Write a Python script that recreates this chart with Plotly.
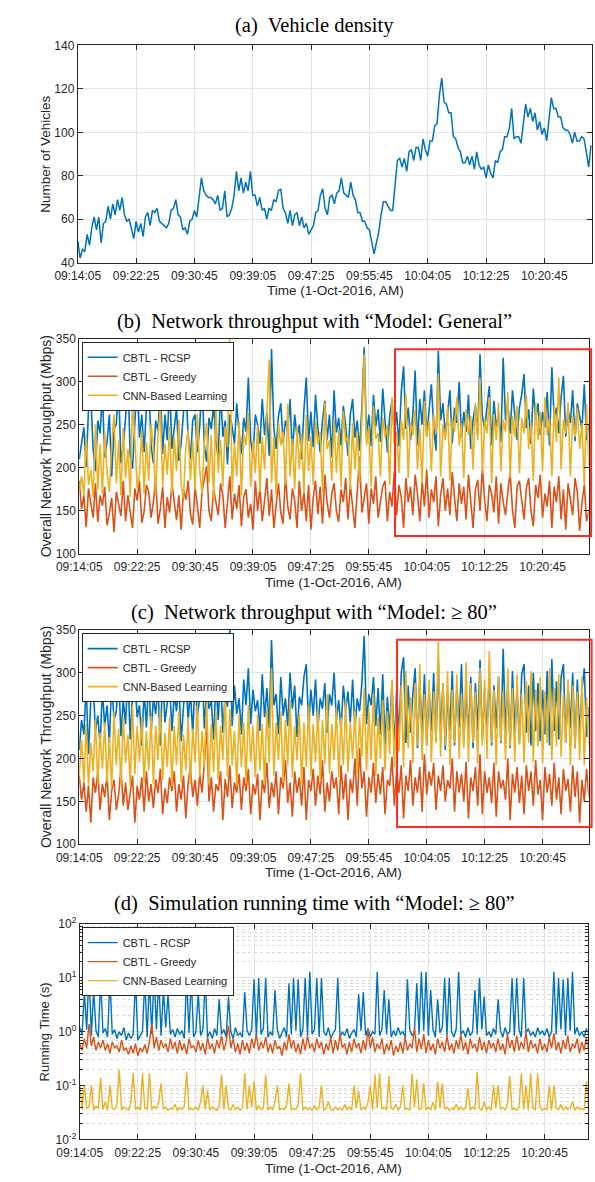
import plotly.graph_objects as go

# ---------------- data ----------------
tick_seconds = [0, 500, 1000, 1500, 2000, 2500, 3000, 3500, 4000]
tick_labels = ["09:14:05", "09:22:25", "09:30:45", "09:39:05", "09:47:25",
               "09:55:45", "10:04:05", "10:12:25", "10:20:45"]
t_sec = list(range(0, 4401, 20))  # seconds after 09:14:05

vehicles = [
    50, 42, 46, 45, 53, 48, 56, 61, 55, 61,
    49, 58, 59, 66, 60, 67, 62, 69, 64, 70,
    62, 59, 60, 56, 51, 59, 54, 58, 52, 61,
    63, 57, 64, 63, 65, 59, 58, 57, 56, 58,
    64, 65, 69, 62, 61, 55, 56, 53, 59, 60,
    64, 61, 69, 79, 73, 71, 70, 70, 69, 67,
    71, 64, 65, 73, 61, 62, 65, 71, 82, 73,
    79, 72, 77, 73, 82, 71, 71, 66, 70, 64,
    65, 60, 65, 64, 69, 68, 73, 74, 65, 63,
    58, 64, 57, 62, 63, 57, 61, 56, 58, 53,
    55, 57, 63, 64, 71, 74, 65, 62, 70, 71,
    67, 72, 73, 79, 72, 71, 70, 77, 71, 69,
    63, 63, 59, 59, 56, 55, 49, 44, 49, 54,
    62, 68, 68, 66, 64, 64, 77, 87, 88, 84,
    88, 82, 91, 92, 87, 93, 93, 87, 97, 92,
    89, 96, 96, 103, 104, 117, 125, 114, 113, 109,
    109, 98, 97, 93, 91, 86, 86, 89, 85, 89,
    83, 91, 85, 83, 84, 79, 85, 81, 79, 87,
    86, 91, 92, 98, 98, 102, 111, 97, 98, 98,
    95, 105, 113, 107, 111, 105, 109, 101, 105, 99,
    102, 96, 105, 116, 111, 111, 107, 107, 102, 101,
    101, 99, 95, 100, 96, 96, 98, 97, 91, 84,
    94]

gen_rcsp = [
    210, 232, 247, 201, 268, 284, 222, 196, 255, 240,
    286, 212, 230, 262, 190, 245, 251, 297, 205, 226,
    258, 309, 214, 199, 248, 305, 235, 262, 218, 270,
    301, 227, 205, 255, 243, 296, 216, 262, 232, 297,
    222, 250, 270, 208, 229, 264, 294, 238, 210, 255,
    262, 218, 248, 301, 226, 207, 258, 245, 273, 230,
    212, 290, 236, 255, 204, 262, 248, 228, 275, 240,
    216, 258, 242, 305, 232, 212, 262, 250, 228, 280,
    238, 265, 214, 338, 246, 222, 260, 275, 229, 255,
    243, 280, 215, 262, 236, 250, 210, 268, 305, 231,
    265, 224, 285, 246, 218, 255, 278, 232, 262, 212,
    290, 241, 258, 226, 272, 249, 214, 262, 280, 235,
    255, 220, 270, 340, 238, 262, 225, 285, 248, 268,
    230, 292, 252, 218, 260, 278, 240, 265, 225, 288,
    318, 245, 270, 232, 262, 313, 226, 280, 250, 290,
    236, 268, 297, 248, 220, 336, 255, 275, 238, 262,
    290, 228, 270, 252, 300, 236, 265, 242, 285, 222,
    256, 272, 238, 332, 260, 245, 268, 295, 226, 278,
    248, 262, 230, 328, 255, 275, 240, 290, 262, 232,
    270, 285, 309, 246, 268, 228, 292, 255, 275, 238,
    265, 247, 288, 226, 317, 258, 270, 240, 282, 307,
    236, 268, 252, 290, 231, 275, 260, 245, 297, 232,
    250]

gen_greedy = [
    185, 152, 168, 131, 176, 160, 142, 182, 137, 168,
    156, 178, 133, 147, 165, 125, 172, 158, 144, 185,
    138, 168, 151, 130, 176, 162, 185, 136, 149, 180,
    172, 142, 160, 188, 135, 152, 178, 130, 166, 148,
    182, 158, 139, 168, 128, 175, 163, 185, 146, 134,
    178, 155, 130, 172, 188, 202, 150, 138, 175, 162,
    145, 182, 168, 130, 157, 190, 140, 170, 152, 180,
    132, 166, 175, 142, 158, 128, 185, 150, 178, 138,
    162, 188, 144, 175, 130, 160, 182, 148, 135, 192,
    155, 140, 176, 162, 130, 185, 150, 172, 138, 180,
    128, 165, 185, 146, 178, 135, 192, 160, 142, 170,
    182, 150, 137, 175, 160, 188, 140, 180, 152, 130,
    172, 213, 148, 165, 182, 135, 176, 158, 190, 142,
    160, 178, 185, 138, 172, 155, 196, 145, 180, 166,
    130, 188, 160, 178, 145, 192, 170, 138, 185, 155,
    198, 142, 175, 160, 190, 132, 168, 188, 150, 176,
    145, 195, 165, 138, 182, 158, 178, 140, 192, 155,
    130, 175, 186, 150, 200, 162, 138, 180, 170, 148,
    190, 135, 182, 160, 145, 172, 195, 152, 130, 178,
    185, 162, 140, 176, 188, 150, 132, 180, 165, 192,
    142, 170, 155, 185, 130, 178, 160, 190, 140, 175,
    128, 182, 165, 145, 188, 172, 127, 160, 180, 138,
    150]

gen_cnn = [
    172, 190, 168, 238, 180, 198, 166, 250, 175, 228,
    170, 242, 195, 172, 226, 262, 182, 232, 168, 246,
    188, 222, 166, 276, 234, 176, 192, 244, 170, 230,
    185, 252, 226, 168, 238, 270, 178, 228, 192, 248,
    170, 236, 196, 256, 180, 166, 224, 244, 186, 232,
    174, 262, 198, 170, 230, 252, 182, 238, 165, 272,
    194, 232, 178, 248, 224, 350, 172, 228, 190, 254,
    168, 240, 226, 264, 178, 232, 194, 250, 172, 236,
    198, 256, 326, 182, 236, 168, 252, 226, 242, 180,
    274, 190, 234, 175, 248, 198, 240, 170, 262, 196,
    236, 180, 254, 228, 242, 172, 276, 222, 232, 185,
    256, 194, 244, 178, 266, 230, 238, 175, 252, 198,
    242, 182, 262, 332, 226, 248, 178, 272, 234, 240,
    190, 258, 236, 250, 180, 282, 228, 242, 194, 256,
    232, 286, 188, 252, 238, 268, 198, 246, 182, 278,
    236, 255, 196, 262, 240, 310, 190, 250, 232, 272,
    185, 258, 242, 282, 226, 252, 188, 268, 238, 260,
    198, 275, 232, 305, 194, 256, 240, 282, 182, 262,
    232, 276, 196, 256, 242, 288, 188, 260, 236, 272,
    194, 258, 240, 284, 222, 252, 185, 276, 232, 265,
    196, 282, 238, 258, 190, 272, 230, 305, 198, 256,
    240, 276, 190, 260, 236, 270, 222, 252, 180, 274,
    200]

m80_rcsp = [
    210, 245, 228, 285, 205, 270, 285, 232, 250, 215,
    280, 238, 262, 218, 290, 245, 255, 300, 226, 268,
    240, 300, 222, 275, 290, 248, 262, 215, 280, 236,
    295, 230, 270, 252, 285, 215, 300, 242, 265, 290,
    232, 275, 255, 288, 220, 260, 300, 245, 278, 228,
    295, 250, 270, 312, 235, 282, 258, 268, 222, 290,
    245, 300, 230, 275, 260, 350, 238, 285, 252, 270,
    228, 292, 262, 305, 240, 280, 255, 268, 232, 298,
    248, 282, 235, 338, 262, 275, 228, 295, 250, 270,
    238, 300, 258, 285, 225, 272, 262, 295, 310, 240,
    280, 250, 292, 235, 270, 258, 288, 230, 275, 262,
    300, 245, 268, 232, 285, 255, 278, 242, 292, 236,
    270, 255, 288, 343, 240, 275, 262, 295, 238, 282,
    228, 298, 215, 272, 232, 290, 210, 280, 225, 300,
    318, 218, 285, 230, 275, 305, 212, 290, 226, 298,
    215, 282, 232, 300, 220, 312, 228, 288, 210, 275,
    232, 302, 215, 285, 236, 310, 220, 278, 228, 295,
    212, 288, 232, 315, 222, 282, 230, 300, 215, 285,
    235, 295, 218, 328, 230, 288, 212, 302, 232, 280,
    218, 298, 310, 230, 285, 215, 300, 232, 288, 220,
    280, 228, 302, 215, 316, 232, 290, 222, 295, 310,
    218, 285, 235, 300, 212, 292, 228, 280, 305, 225,
    260]

m80_greedy = [
    180, 152, 172, 138, 168, 125, 178, 160, 185, 140,
    170, 155, 182, 128, 162, 175, 140, 158, 188, 145,
    172, 140, 160, 180, 125, 168, 152, 178, 138, 185,
    150, 170, 142, 176, 160, 188, 135, 165, 148, 178,
    162, 185, 138, 170, 152, 180, 130, 172, 190, 155,
    175, 145, 182, 160, 195, 238, 150, 178, 138, 170,
    162, 185, 128, 176, 155, 192, 142, 172, 160, 182,
    140, 178, 162, 188, 135, 170, 158, 182, 128, 175,
    160, 195, 142, 172, 155, 185, 135, 178, 165, 198,
    148, 172, 132, 185, 160, 178, 145, 190, 128, 175,
    162, 188, 145, 180, 158, 198, 138, 172, 150, 185,
    165, 178, 135, 192, 152, 182, 128, 176, 160, 200,
    145, 212, 165, 185, 132, 178, 160, 195, 148, 182,
    158, 190, 135, 175, 168, 202, 145, 185, 160, 192,
    130, 180, 162, 198, 145, 178, 160, 190, 138, 205,
    158, 185, 168, 195, 140, 180, 162, 192, 150, 175,
    165, 200, 138, 185, 160, 182, 150, 196, 130, 178,
    162, 190, 145, 205, 135, 185, 160, 178, 148, 195,
    132, 185, 165, 175, 152, 200, 128, 182, 160, 190,
    148, 180, 135, 192, 162, 185, 145, 198, 158, 175,
    128, 190, 160, 182, 145, 195, 152, 178, 135, 188,
    162, 176, 138, 192, 155, 185, 125, 175, 150, 188,
    155]

m80_cnn = [
    180, 222, 172, 240, 168, 218, 185, 246, 170, 230,
    188, 242, 172, 225, 166, 255, 192, 235, 170, 248,
    195, 228, 168, 262, 182, 238, 196, 248, 172, 232,
    186, 250, 170, 238, 198, 258, 175, 230, 190, 248,
    168, 238, 192, 255, 172, 228, 186, 248, 170, 235,
    196, 262, 178, 232, 190, 268, 170, 240, 184, 255,
    175, 238, 198, 275, 178, 258, 192, 232, 168, 250,
    190, 242, 172, 262, 196, 238, 178, 250, 186, 240,
    170, 258, 195, 305, 180, 242, 198, 255, 172, 245,
    192, 268, 178, 238, 198, 252, 170, 242, 190, 262,
    180, 240, 196, 258, 175, 245, 194, 275, 182, 240,
    198, 260, 178, 248, 192, 268, 184, 242, 200, 255,
    182, 248, 202, 282, 186, 258, 198, 275, 180, 248,
    200, 268, 186, 255, 205, 292, 190, 262, 208, 285,
    190, 302, 212, 272, 195, 288, 215, 310, 198, 275,
    215, 292, 196, 278, 218, 336, 202, 288, 215, 302,
    192, 280, 218, 298, 200, 275, 212, 312, 196, 288,
    218, 278, 194, 305, 215, 292, 200, 325, 218, 280,
    192, 296, 220, 278, 198, 305, 214, 282, 196, 298,
    216, 275, 195, 290, 218, 302, 196, 280, 214, 295,
    194, 278, 218, 305, 198, 282, 214, 298, 202, 275,
    218, 292, 192, 285, 212, 278, 198, 295, 192, 272,
    215]

rt_rcsp = [
    1.2, 0.9, 5.5, 1.1, 13, 0.85, 6, 1.05, 0.8, 10,
    0.95, 1.15, 0.8, 10, 0.9, 1.1, 0.75, 1.0, 0.85, 1.2,
    0.7, 0.95, 0.75, 0.9, 10, 0.7, 0.85, 1.0, 9.5, 0.8,
    9.5, 0.9, 13, 1.1, 10, 0.85, 6, 1.2, 5, 0.9,
    1.1, 0.8, 1.15, 0.9, 1.05, 0.75, 10, 0.95, 10, 0.8,
    1.0, 5.5, 0.85, 1.1, 9.5, 0.8, 1.0, 0.75, 1.15, 0.85,
    4, 0.9, 1.1, 0.8, 4.5, 1.0, 0.75, 1.2, 0.85, 0.95,
    0.8, 5.5, 1.05, 0.85, 1.1, 9.5, 0.8, 10, 0.9, 1.15,
    10, 0.8, 1.0, 0.85, 6, 1.1, 0.75, 0.95, 1.2, 0.8,
    8, 0.9, 10, 1.05, 9.5, 0.8, 1.1, 10, 0.85, 13,
    0.9, 1.1, 10, 0.8, 10, 1.0, 0.85, 1.2, 0.75, 0.95,
    1.1, 10, 0.8, 1.0, 0.85, 1.15, 0.75, 0.95, 1.1, 0.8,
    5, 1.05, 5.5, 0.85, 1.15, 0.8, 1.0, 0.9, 13, 0.85,
    1.1, 6, 0.9, 4, 0.8, 1.05, 0.85, 1.2, 0.9, 1.0,
    0.8, 9.5, 1.1, 0.85, 1.0, 8, 0.9, 13, 1.05, 13,
    0.85, 6, 1.1, 0.8, 4, 0.95, 1.2, 10, 0.85, 10,
    1.0, 0.8, 1.15, 13, 0.9, 1.05, 0.8, 1.2, 0.85, 1.0,
    6, 0.9, 10, 1.1, 4.5, 0.85, 1.0, 0.8, 1.15, 0.9,
    4, 1.05, 0.8, 1.2, 0.9, 1.0, 10, 0.85, 10, 1.1,
    0.8, 10, 0.95, 1.15, 0.85, 1.0, 0.8, 1.2, 0.9, 1.05,
    0.85, 1.15, 0.8, 1.0, 13, 0.9, 10, 1.1, 9.5, 0.85,
    10, 1.05, 13, 0.9, 1.2, 0.85, 1.0, 0.8, 1.15, 0.9,
    1.0]

rt_greedy = [
    0.6, 0.45, 0.75, 0.5, 1.4, 0.55, 0.8, 0.45, 0.65, 0.5,
    0.7, 0.45, 0.6, 0.4, 0.65, 0.5, 0.55, 0.42, 0.7, 0.45,
    0.5, 0.38, 0.55, 0.4, 0.6, 0.36, 0.5, 0.42, 0.58, 0.4,
    0.65, 1.4, 0.5, 0.8, 0.45, 0.7, 0.5, 0.6, 0.42, 0.75,
    0.48, 0.65, 0.4, 0.7, 0.45, 0.6, 0.38, 0.75, 0.5, 0.55,
    0.42, 0.7, 0.45, 0.62, 0.38, 0.8, 0.48, 0.6, 0.4, 0.7,
    0.5, 0.85, 0.45, 0.65, 1.3, 0.5, 0.75, 0.42, 0.6, 0.38,
    0.7, 0.45, 0.62, 0.4, 0.75, 0.5, 0.9, 0.45, 0.65, 0.5,
    0.8, 0.42, 0.6, 0.4, 0.7, 0.48, 0.55, 0.36, 0.65, 0.45,
    0.9, 0.5, 0.7, 0.42, 0.6, 0.38, 0.75, 0.45, 0.85, 0.5,
    0.6, 0.42, 0.75, 0.5, 0.65, 0.38, 0.6, 0.45, 0.8, 0.4,
    0.7, 0.45, 0.9, 0.5, 0.6, 0.38, 0.65, 0.42, 0.75, 0.5,
    0.62, 0.4, 0.7, 0.45, 1.1, 0.5, 0.8, 0.42, 0.6, 0.48,
    0.75, 0.38, 0.6, 0.45, 0.7, 0.36, 0.55, 0.42, 0.65, 0.4,
    0.8, 0.45, 0.6, 0.5, 1.2, 0.42, 0.75, 0.48, 0.9, 0.4,
    0.7, 0.45, 0.6, 0.38, 0.75, 0.5, 0.65, 0.42, 0.85, 0.45,
    0.6, 0.4, 0.7, 0.48, 0.9, 0.45, 0.65, 0.38, 0.75, 0.5,
    0.6, 0.42, 0.8, 0.45, 0.65, 0.4, 0.7, 0.5, 0.62, 0.42,
    0.75, 0.45, 0.6, 0.38, 0.9, 0.5, 0.7, 0.42, 0.85, 0.45,
    0.65, 0.48, 1.0, 0.42, 0.7, 0.5, 0.6, 0.4, 0.75, 0.45,
    0.6, 0.42, 0.8, 0.5, 0.95, 0.45, 0.65, 0.4, 0.7, 0.48,
    0.85, 0.42, 0.6, 0.5, 0.75, 0.4, 0.65, 0.45, 0.8, 0.42,
    0.6]

rt_cnn = [
    0.11, 0.036, 0.1, 0.038, 0.04, 0.1, 0.035, 0.042, 0.037, 0.14,
    0.036, 0.05, 0.035, 0.1, 0.038, 0.036, 0.045, 0.2, 0.035, 0.04,
    0.037, 0.035, 0.048, 0.17, 0.036, 0.04, 0.035, 0.17, 0.038, 0.036,
    0.17, 0.035, 0.042, 0.037, 0.05, 0.11, 0.036, 0.04, 0.035, 0.038,
    0.036, 0.045, 0.035, 0.039, 0.036, 0.042, 0.18, 0.035, 0.038, 0.036,
    0.04, 0.035, 0.05, 0.1, 0.036, 0.08, 0.035, 0.04, 0.037, 0.035,
    0.042, 0.16, 0.036, 0.1, 0.038, 0.035, 0.045, 0.036, 0.04, 0.035,
    0.038, 0.17, 0.036, 0.1, 0.04, 0.12, 0.035, 0.042, 0.036, 0.038,
    0.16, 0.035, 0.04, 0.036, 0.05, 0.1, 0.035, 0.038, 0.036, 0.042,
    0.11, 0.035, 0.038, 0.036, 0.045, 0.17, 0.035, 0.04, 0.036, 0.038,
    0.035, 0.042, 0.036, 0.04, 0.1, 0.035, 0.038, 0.05, 0.036, 0.035,
    0.04, 0.036, 0.038, 0.035, 0.045, 0.036, 0.04, 0.035, 0.1, 0.038,
    0.08, 0.035, 0.04, 0.036, 0.05, 0.1, 0.035, 0.16, 0.038, 0.17,
    0.036, 0.04, 0.035, 0.15, 0.038, 0.036, 0.045, 0.035, 0.04, 0.1,
    0.036, 0.038, 0.035, 0.17, 0.04, 0.13, 0.036, 0.038, 0.11, 0.035,
    0.04, 0.036, 0.05, 0.035, 0.12, 0.038, 0.11, 0.036, 0.04, 0.035,
    0.038, 0.036, 0.045, 0.035, 0.04, 0.036, 0.038, 0.09, 0.035, 0.04,
    0.036, 0.18, 0.038, 0.035, 0.05, 0.036, 0.04, 0.035, 0.1, 0.038,
    0.1, 0.036, 0.04, 0.035, 0.045, 0.15, 0.036, 0.038, 0.035, 0.04,
    0.17, 0.036, 0.1, 0.035, 0.17, 0.038, 0.036, 0.17, 0.04, 0.035,
    0.038, 0.036, 0.1, 0.035, 0.1, 0.038, 0.036, 0.045, 0.035, 0.04,
    0.036, 0.038, 0.05, 0.035, 0.04, 0.036, 0.038, 0.035, 0.12, 0.036,
    0.038]

series_names = ["CBTL - RCSP", "CBTL - Greedy", "CNN-Based Learning"]
colors = ["#0072BD", "#D95319", "#EDB120"]

titles = ["(a)  Vehicle density",
          "(b)  Network throughput with \u201cModel: General\u201d",
          "(c)  Network throughput with \u201cModel: \u2265 80\u201d",
          "(d)  Simulation running time with \u201cModel: \u2265 80\u201d"]

# ---------------- figure ----------------
W, H = 595, 1182
fig = go.Figure()

fig.add_trace(go.Scatter(x=t_sec, y=vehicles, mode="lines",
                         line=dict(color=colors[0], width=1.5),
                         showlegend=False, xaxis="x", yaxis="y"))

panels = [
    ("x2", "y2", "legend", [gen_rcsp, gen_greedy, gen_cnn], 1.6),
    ("x3", "y3", "legend2", [m80_rcsp, m80_greedy, m80_cnn], 1.6),
    ("x4", "y4", "legend3", [rt_rcsp, rt_greedy, rt_cnn], 1.4),
]
for xa, ya, lg, data, lw in panels:
    for name, col, vals in zip(series_names, colors, data):
        fig.add_trace(go.Scatter(x=t_sec, y=vals, mode="lines", name=name,
                                 line=dict(color=col, width=lw),
                                 xaxis=xa, yaxis=ya, legend=lg))

AX = "#262626"
SANS = "Liberation Sans, Arial, sans-serif"
tickfont = dict(family=SANS, size=12, color=AX)
base = dict(showline=True, linecolor=AX, linewidth=1, mirror="ticks",
            ticks="inside", ticklen=5, tickcolor=AX, tickwidth=1,
            showgrid=True, gridcolor="#e3e3e3", gridwidth=1, zeroline=False,
            tickfont=tickfont)

def xax(domain, anchor, rng):
    d = dict(base)
    d.update(domain=domain, anchor=anchor, range=rng, tickmode="array",
             tickvals=tick_seconds, ticktext=tick_labels, ticklabelstandoff=2)
    return d

def yax(domain, anchor, rng, **kw):
    d = dict(base)
    d.update(domain=domain, anchor=anchor, range=rng)
    d.update(kw)
    return d

def px(v):
    return v / W

def py(v):
    return 1 - v / H

layout = dict(
    width=W, height=H, margin=dict(l=0, r=0, t=0, b=0),
    paper_bgcolor="white", plot_bgcolor="white",
    xaxis=xax([px(57), px(592.3)], "y", [0, 4412]),
    yaxis=yax([py(257), py(37)], "x", [40, 140], dtick=20),
    xaxis2=xax([px(58.5), px(588.3)], "y2", [0, 4397]),
    yaxis2=yax([py(552.3), py(334.3)], "x2", [100, 350], dtick=50),
    xaxis3=xax([px(58.5), px(588.3)], "y3", [0, 4397]),
    yaxis3=yax([py(846.7), py(629.3)], "x3", [100, 350], dtick=50),
    xaxis4=xax([px(59), px(587.3)], "y4", [0, 4370]),
    yaxis4=yax([py(1146), py(927.7)], "x4", [-2, 2], type="log",
               tickmode="array", tickvals=[0.01, 0.1, 1, 10, 100],
               ticktext=["10<sup>-2</sup>", "10<sup>-1</sup>", "10<sup>0</sup>",
                         "10<sup>1</sup>", "10<sup>2</sup>"],
               minor=dict(ticks="inside", ticklen=3, tickcolor=AX,
                          showgrid=True, gridcolor="#d9d9d9", griddash="dot",
                          tickvals=[a * b for b in (0.01, 0.1, 1, 10) for a in range(2, 10)])),
)

legend_style = dict(xanchor="left", yanchor="top", bgcolor="white",
                    bordercolor=AX, borderwidth=1, tracegroupgap=0,
                    font=dict(family=SANS, size=11, color=AX),
                    itemwidth=30)
layout["legend"] = dict(legend_style, x=px(61), y=py(337.3))
layout["legend2"] = dict(legend_style, x=px(61), y=py(632.7))
layout["legend3"] = dict(legend_style, x=px(61), y=py(930.7))
fig.update_layout(**layout)

# titles
ann = []
for txt, yy in zip(titles, [17, 316.7, 611.7, 906.7]):
    ann.append(dict(text=txt, x=px(303), y=py(yy), xref="paper", yref="paper",
                    showarrow=False, xanchor="center", yanchor="middle",
                    font=dict(family="Liberation Serif, Times New Roman, serif", size=20.5, color="black")))
# axis titles
xt_font = dict(family=SANS, size=13.5, color=AX)
for yy, cx in zip([285, 581, 875, 1175], [324.6, 323.4, 323.4, 323.1]):
    ann.append(dict(text="Time (1-Oct-2016, AM)", x=px(cx), y=py(yy), xref="paper", yref="paper",
                    showarrow=False, xanchor="center", yanchor="middle", font=xt_font))
ytitles = [("Number of Vehicles", 22.7, 147, 13.5),
           ("Overall Network Throughput (Mbps)", 24, 443.3, 14),
           ("Overall Network Throughput (Mbps)", 24, 738, 14),
           ("Running Time (s)", 22.5, 1036.8, 13)]
for txt, xx, yy, fs in ytitles:
    ann.append(dict(text=txt, x=px(xx), y=py(yy), xref="paper", yref="paper",
                    showarrow=False, xanchor="center", yanchor="middle", textangle=-90,
                    font=dict(family=SANS, size=fs, color=AX)))
fig.update_layout(annotations=ann)

# red highlight boxes
red = "#ff2b1c"
fig.add_shape(type="rect", xref="x2 domain", yref="y2 domain",
              x0=0.62, x1=1.005, y0=0.083, y1=0.951, line=dict(color=red, width=2))
fig.add_shape(type="rect", xref="x3 domain", yref="y3 domain",
              x0=0.624, x1=1.006, y0=0.08, y1=0.954, line=dict(color=red, width=2))

fig.write_html("out.html")
